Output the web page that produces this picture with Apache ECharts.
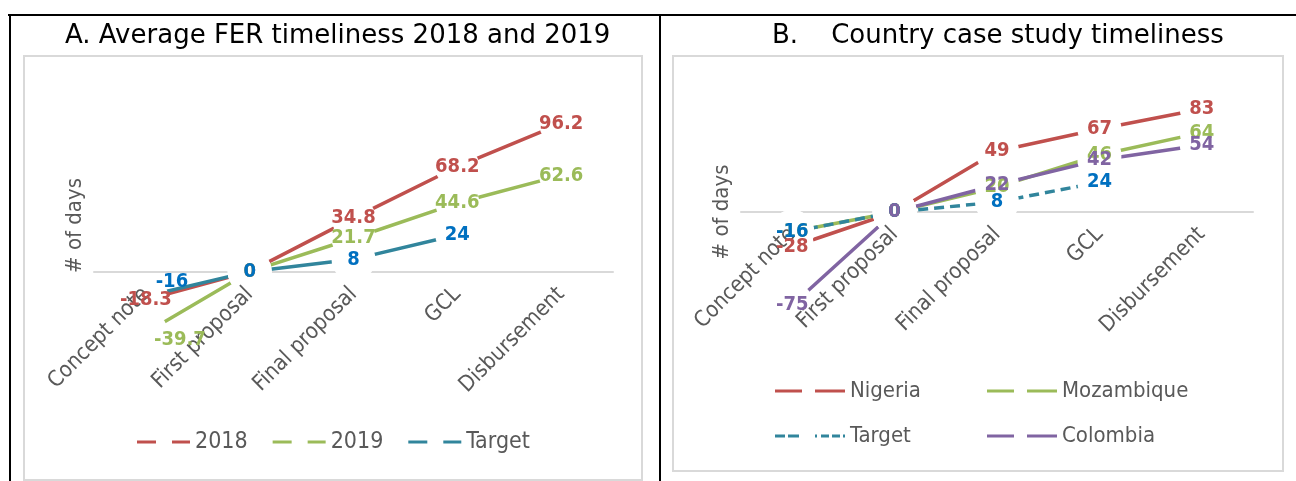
<!DOCTYPE html>
<html>
<head>
<meta charset="utf-8">
<title>FER timeliness</title>
<script src="https://cdn.jsdelivr.net/npm/echarts@6/dist/echarts.min.js"></script>
<style>
  html, body { margin: 0; padding: 0; background: #fff; }
  #main { width: 1296px; height: 481px; }
</style>
</head>
<body>
<div id="main"></div>
<script>
// stages on the x axis (same for both panels)
const stages = ['Concept note', 'First proposal', 'Final proposal', 'GCL', 'Disbursement'];

// A. average FER timeliness, days
const fer2018 = [-18.3, 0, 34.8, 68.2, 96.2];
const fer2019 = [-39.7, 0, 21.7, 44.6, 62.6];
const ferTarget = [-16, 0, 8, 24, null];

// B. country case studies, days
const nigeria = [-28, 0, 49, 67, 83];
const mozambique = [-16, 0, 20, 46, 64];
const caseTarget = [-16, 0, 8, 24, null];
const colombia = [-75, 0, 22, 42, 54];

const RED = '#C0504D', GREEN = '#9BBB59', TEAL = '#31859C', PURPLE = '#8064A2', BLUE = '#0070C0';
const GREY = '#595959';
const cond = "'DejaVu Sans Condensed', 'DejaVu Sans', sans-serif";

// two-dash legend keys, like the excel legend
const keyA = 'path://M0,0H19V3H0Z M35,0H53V3H35Z';
const keyB = 'path://M0,0H27V3H0Z M40,0H70V3H40Z';
const keyDots = 'path://M0,0H10V3H0Z M13,0H24V3H13Z M40,0H42V3H40Z M46,0H54V3H46Z M57,0H65V3H57Z M68,0H70V3H68Z';

function points (values, shift) {
    return values.map((v, i) => {
        let item = { value: v == null ? '-' : v };
        if (shift && shift[i]) item.label = { offset: shift[i] };
        return item;
    });
}

// the line itself, with big white markers that cut it around every point
function lineSeries (name, values, idx, lineColor, dashed) {
    return {
        name: name,
        type: 'line',
        xAxisIndex: idx,
        yAxisIndex: idx,
        data: points(values),
        symbol: 'circle',
        symbolSize: 44,
        itemStyle: { color: '#fff', borderWidth: 0 },
        lineStyle: { color: lineColor, width: 3.5, type: dashed ? [10, 6] : 'solid' },
        label: { show: false },
        silent: true,
        emphasis: { disabled: true }
    };
}

// value labels on the top layer, over the stage names
function labelSeries (name, values, idx, labelColor, shift) {
    return {
        name: name + ' labels',
        type: 'line',
        xAxisIndex: idx,
        yAxisIndex: idx,
        zlevel: 2,
        data: points(values, shift),
        symbol: 'circle',
        symbolSize: 2,
        itemStyle: { color: 'transparent', borderWidth: 0 },
        lineStyle: { opacity: 0, width: 0 },
        label: {
            show: true,
            position: 'inside',
            color: labelColor,
            fontFamily: cond,
            fontWeight: 'bold',
            fontSize: 20
        },
        silent: true,
        emphasis: { disabled: true }
    };
}

// axis with the zero line only
function xAxisFor (idx) {
    return {
        type: 'category',
        gridIndex: idx,
        data: stages,
        axisLine: { onZero: true, lineStyle: { color: '#d9d9d9', width: 2 } },
        axisTick: { show: false },
        axisLabel: { show: false },
        splitLine: { show: false }
    };
}

// labels only, on a grid whose bottom sits on the zero line; own layer so the markers don't hide them
function labelAxisFor (idx) {
    return {
        type: 'category',
        gridIndex: idx,
        zlevel: 1,
        data: stages,
        axisLine: { show: false },
        axisTick: { show: false },
        axisLabel: { interval: 0, rotate: 45, margin: 19, color: GREY, fontFamily: cond, fontSize: 22 },
        splitLine: { show: false }
    };
}

function yAxisFor (idx, min, max) {
    return {
        type: 'value',
        gridIndex: idx,
        min: min,
        max: max,
        interval: 20,
        axisLine: { show: false },
        axisTick: { show: false },
        axisLabel: { show: false },
        splitLine: { show: false },
        name: '# of days',
        nameLocation: 'middle',
        nameGap: 8,
        nameTextStyle: { color: GREY, fontFamily: cond, fontSize: 22 }
    };
}

function hiddenY (idx) {
    return { type: 'value', gridIndex: idx, min: 0, max: 1, show: false };
}

function legendItem (name, color) {
    return { name: name, itemStyle: { color: color } };
}

const legendText = { color: GREY, fontFamily: cond, fontSize: 22, lineHeight: 26 };
const titleText = { color: '#000', fontFamily: "'DejaVu Sans', sans-serif", fontSize: 26, fontWeight: 'normal' };

const option = {
    animation: false,
    backgroundColor: '#fff',
    title: [
        { text: 'A. Average FER timeliness 2018 and 2019', left: 65, top: 23, padding: 0, textStyle: titleText },
        { text: 'B.    Country case study timeliness', left: 772, top: 23, padding: 0, textStyle: titleText }
    ],
    graphic: [
        // table borders
        { type: 'line', shape: { x1: 8, y1: 15, x2: 1296, y2: 15 }, style: { stroke: '#000', lineWidth: 2 } },
        { type: 'line', shape: { x1: 10, y1: 15, x2: 10, y2: 481 }, style: { stroke: '#000', lineWidth: 2 } },
        { type: 'line', shape: { x1: 660, y1: 15, x2: 660, y2: 481 }, style: { stroke: '#000', lineWidth: 2 } },
        // chart area frames
        { type: 'rect', shape: { x: 24, y: 56, width: 618, height: 424 }, style: { fill: 'none', stroke: '#d9d9d9', lineWidth: 2 } },
        { type: 'rect', shape: { x: 673, y: 56, width: 610, height: 415 }, style: { fill: 'none', stroke: '#d9d9d9', lineWidth: 2 } }
    ],
    legend: [
        {
            left: 137, top: 429, padding: 0, itemWidth: 53, itemHeight: 3, itemGap: 25, icon: keyA,
            textStyle: Object.assign({}, legendText, { fontSize: 23 }),
            data: [legendItem('2018', RED), legendItem('2019', GREEN), legendItem('Target', TEAL)],
            selectedMode: false
        },
        {
            orient: 'vertical', left: 775, top: 378, padding: 0, itemWidth: 70, itemHeight: 3, itemGap: 19,
            textStyle: legendText,
            data: [
                { name: 'Nigeria', icon: keyB, itemStyle: { color: RED } },
                { name: 'Target', icon: keyDots, itemStyle: { color: TEAL } }
            ],
            selectedMode: false
        },
        {
            orient: 'vertical', left: 987, top: 378, padding: 0, itemWidth: 70, itemHeight: 3, itemGap: 19, icon: keyB,
            textStyle: legendText,
            data: [legendItem('Mozambique', GREEN), legendItem('Colombia', PURPLE)],
            selectedMode: false
        }
    ],
    grid: [
        { left: 94, top: 87, width: 519, height: 277 },
        { left: 741, top: 88, width: 512, height: 248 },
        { left: 94, top: 87, width: 519, height: 185 },
        { left: 741, top: 88, width: 512, height: 124 }
    ],
    xAxis: [xAxisFor(0), xAxisFor(1), labelAxisFor(2), labelAxisFor(3)],
    yAxis: [yAxisFor(0, -60, 120), yAxisFor(1, -100, 100), hiddenY(2), hiddenY(3)],
    series: [
        lineSeries('2018', fer2018, 0, RED),
        lineSeries('2019', fer2019, 0, GREEN),
        lineSeries('Target', ferTarget, 0, TEAL),
        lineSeries('Nigeria', nigeria, 1, RED),
        lineSeries('Mozambique', mozambique, 1, GREEN),
        lineSeries('Target', caseTarget, 1, TEAL, true),
        lineSeries('Colombia', colombia, 1, PURPLE),
        labelSeries('2018', fer2018, 0, RED),
        labelSeries('2019', fer2019, 0, GREEN, [[34, 7]]),
        labelSeries('Target', ferTarget, 0, BLUE, [[26, -14]]),
        labelSeries('Nigeria', nigeria, 1, RED),
        labelSeries('Mozambique', mozambique, 1, GREEN),
        labelSeries('Target', caseTarget, 1, BLUE),
        labelSeries('Colombia', colombia, 1, PURPLE)
    ]
};

const myChart = echarts.init(document.getElementById('main'));
myChart.setOption(option);
</script>
</body>
</html>
